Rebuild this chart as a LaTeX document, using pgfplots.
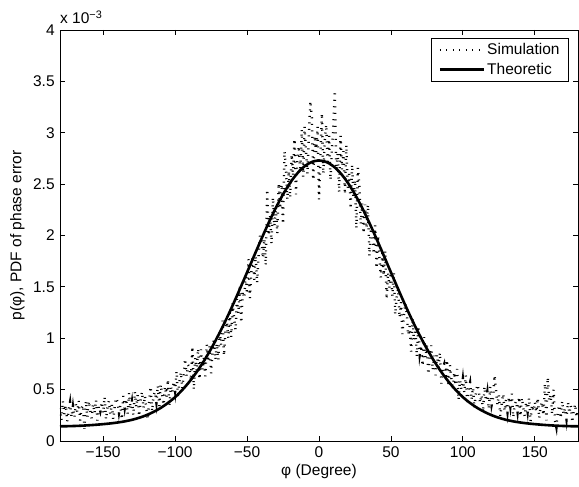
\documentclass[border=0pt]{standalone}
\usepackage{pgfplots}
\pgfplotsset{compat=1.18}
\pgfplotsset{legend image code/.code={\draw[#1] (0pt,0pt) -- (44pt,0pt);}}
\usepackage{fontspec}
\setmainfont{Liberation Sans}
\begin{document}
\fontsize{15.5}{18}\selectfont
\begin{tikzpicture}
\begin{axis}[
  name=a,
  scale only axis,
  width=518pt, height=411pt,
  xmin=-180, xmax=180, ymin=0, ymax=4,
  xtick={-150,-100,-50,0,50,100,150},
  xticklabels={−150,−100,−50,0,50,100,150},
  ytick={0,0.5,1,1.5,2,2.5,3,3.5,4},
  yticklabels={0,0.5,1,1.5,2,2.5,3,3.5,4},
  /pgf/number format/assume math mode=true,
  tick align=inside, tick pos=both,
  major tick length=5pt,
  axis line style={line width=0.8pt},
  every tick/.style={black, line width=0.8pt},
  xlabel={φ (Degree)},
  ylabel={p(φ), PDF of phase error},
  xlabel style={yshift=4pt},
  ylabel style={yshift=-2pt},
  legend cell align=left,
  legend style={at={(1,1)}, anchor=north east, xshift=-9pt, yshift=-8pt,
    draw=black, line width=0.8pt, inner xsep=7pt, inner ysep=3pt,
    row sep=2pt, font=\fontsize{15.5}{18}\selectfont},
]
\addplot[black, line width=2.4pt, dash pattern=on 1pt off 5.5pt] coordinates {
(-180,0.32) (-179,0.20) (-178,0.39) (-177,0.26) (-176,0.35) (-175,0.19) (-174,0.30) (-173,0.38) (-172,0.23) (-171,0.34)
(-170,0.23) (-169,0.36) (-168,0.28) (-167,0.39) (-166,0.20) (-165,0.32) (-164,0.35) (-163,0.12) (-162,0.39) (-161,0.23)
(-160,0.39) (-159,0.30) (-158,0.22) (-157,0.36) (-156,0.27) (-155,0.40) (-154,0.20) (-153,0.34) (-152,0.29) (-151,0.38)
(-150,0.27) (-149,0.43) (-148,0.21) (-147,0.33) (-146,0.39) (-145,0.26) (-144,0.36) (-143,0.21) (-142,0.33) (-141,0.42)
(-140,0.38) (-139,0.27) (-138,0.35) (-137,0.21) (-136,0.44) (-135,0.32) (-134,0.41) (-133,0.26) (-132,0.47) (-131,0.31)
(-130,0.39) (-129,0.25) (-128,0.48) (-127,0.33) (-126,0.45) (-125,0.24) (-124,0.39) (-123,0.48) (-122,0.32) (-121,0.44)
(-120,0.31) (-119,0.21) (-118,0.39) (-117,0.53) (-116,0.29) (-115,0.44) (-114,0.48) (-113,0.37) (-112,0.54) (-111,0.34)
(-110,0.55) (-109,0.45) (-108,0.35) (-107,0.53) (-106,0.43) (-105,0.60) (-104,0.34) (-103,0.53) (-102,0.47) (-101,0.58)
(-100,0.48) (-99,0.68) (-98,0.42) (-97,0.58) (-96,0.67) (-95,0.51) (-94,0.65) (-93,0.80) (-92,0.63) (-91,0.74)
(-90,0.72) (-89,0.59) (-88,0.92) (-87,0.50) (-86,0.81) (-85,0.68) (-84,0.90) (-83,0.60) (-82,0.89) (-81,0.69)
(-80,0.81) (-79,0.63) (-78,0.94) (-77,0.77) (-76,0.92) (-75,0.66) (-74,0.86) (-73,1.00) (-72,0.79) (-71,0.95)
(-70,0.79) (-69,1.06) (-68,0.93) (-67,1.17) (-66,0.83) (-65,1.07) (-64,1.16) (-63,1.00) (-62,1.28) (-61,1.01)
(-60,1.34) (-59,1.20) (-58,1.08) (-57,1.38) (-56,1.24) (-55,1.52) (-54,1.15) (-53,1.46) (-52,1.39) (-51,1.60)
(-50,1.43) (-49,1.77) (-48,1.39) (-47,1.66) (-46,1.80) (-45,1.57) (-44,1.80) (-43,1.54) (-42,1.80) (-41,2.00)
(-40,1.97) (-39,1.78) (-38,1.97) (-37,1.71) (-36,2.45) (-35,2.00) (-34,2.20) (-33,1.92) (-32,2.37) (-31,2.09)
(-30,2.28) (-29,2.02) (-28,2.51) (-27,2.26) (-26,2.50) (-25,2.11) (-24,2.82) (-23,2.67) (-22,2.35) (-21,2.63)
(-20,2.37) (-19,2.79) (-18,2.58) (-17,2.94) (-16,2.40) (-15,2.76) (-14,2.87) (-13,2.62) (-12,3.03) (-11,2.57)
(-10,3.06) (-9,2.81) (-8,2.60) (-7,2.99) (-6,3.31) (-5,3.15) (-4,2.54) (-3,2.97) (-2,2.81) (-1,3.06)
(0,2.35) (1,2.77) (2,3.19) (3,2.60) (4,2.92) (5,3.08) (6,2.69) (7,2.97) (8,2.54) (9,2.85)
(10,3.06) (11,3.41) (12,2.64) (13,2.80) (14,2.42) (15,2.97) (16,2.64) (17,2.82) (18,2.40) (19,2.88)
(20,2.46) (21,2.60) (22,2.26) (23,2.69) (24,2.36) (25,2.54) (26,2.07) (27,2.66) (28,2.49) (29,2.11)
(30,2.31) (31,2.02) (32,2.30) (33,2.07) (34,2.30) (35,1.80) (36,2.04) (37,2.07) (38,1.82) (39,2.10)
(40,1.68) (41,2.00) (42,1.78) (43,1.59) (44,1.83) (45,1.61) (46,1.85) (47,1.38) (48,1.64) (49,1.49)
(50,1.64) (51,1.41) (52,1.64) (53,1.23) (54,1.40) (55,1.48) (56,1.20) (57,1.35) (58,1.04) (59,1.22)
(60,1.34) (61,1.24) (62,1.03) (63,1.12) (64,0.87) (65,1.20) (66,0.98) (67,1.09) (68,0.82) (69,1.12)
(70,0.84) (71,0.93) (72,0.73) (73,1.01) (74,0.81) (75,0.93) (76,0.65) (77,0.82) (78,0.93) (79,0.69)
(80,0.83) (81,0.64) (82,0.84) (83,0.69) (84,0.86) (85,0.56) (86,0.71) (87,0.75) (88,0.60) (89,0.79)
(90,0.53) (91,0.74) (92,0.61) (93,0.50) (94,0.67) (95,0.54) (96,0.70) (97,0.40) (98,0.59) (99,0.50)
(100,0.61) (101,0.47) (102,0.64) (103,0.38) (104,0.51) (105,0.57) (106,0.40) (107,0.52) (108,0.32) (109,0.46)
(110,0.55) (111,0.50) (112,0.37) (113,0.45) (114,0.28) (115,0.53) (116,0.39) (117,0.48) (118,0.31) (119,0.53)
(120,0.35) (121,0.42) (122,0.64) (123,0.50) (124,0.35) (125,0.45) (126,0.24) (127,0.37) (128,0.46) (129,0.29)
(130,0.40) (131,0.28) (132,0.43) (133,0.33) (134,0.46) (135,0.23) (136,0.35) (137,0.39) (138,0.28) (139,0.43)
(140,0.24) (141,0.42) (142,0.32) (143,0.24) (144,0.38) (145,0.28) (146,0.42) (147,0.19) (148,0.35) (149,0.29)
(150,0.38) (151,0.28) (152,0.42) (153,0.22) (154,0.33) (155,0.38) (156,0.25) (157,0.56) (158,0.20) (159,0.62)
(160,0.39) (161,0.45) (162,0.26) (163,0.50) (164,0.20) (165,0.13) (166,0.29) (167,0.35) (168,0.22) (169,0.39)
(170,0.26) (171,0.32) (172,0.21) (173,0.38) (174,0.27) (175,0.35) (176,0.18) (177,0.29) (178,0.36) (179,0.23)
(180,0.32)
};
\addlegendentry{Simulation}
\addplot[black, line width=2.6pt, smooth] coordinates {
(-180,0.143) (-175,0.144) (-170,0.146) (-165,0.149) (-160,0.153) (-155,0.158) (-150,0.164) (-145,0.171) (-140,0.180)
(-135,0.191) (-130,0.206) (-125,0.226) (-120,0.251) (-115,0.283) (-110,0.322) (-105,0.370) (-100,0.427) (-95,0.497)
(-90,0.578) (-85,0.672) (-80,0.778) (-75,0.897) (-70,1.028) (-65,1.169) (-60,1.320) (-55,1.479) (-50,1.641)
(-45,1.805) (-40,1.967) (-35,2.123) (-30,2.269) (-25,2.400) (-20,2.514) (-15,2.606) (-10,2.674) (-5,2.716)
(0,2.730)
(5,2.716) (10,2.674) (15,2.606) (20,2.514) (25,2.400) (30,2.269) (35,2.123) (40,1.967) (45,1.805)
(50,1.641) (55,1.479) (60,1.320) (65,1.169) (70,1.028) (75,0.897) (80,0.778) (85,0.672) (90,0.578)
(95,0.497) (100,0.427) (105,0.370) (110,0.322) (115,0.283) (120,0.251) (125,0.226) (130,0.206) (135,0.191)
(140,0.180) (145,0.171) (150,0.164) (155,0.158) (160,0.153) (165,0.149) (170,0.146) (175,0.144) (180,0.143)
};
\addlegendentry{Theoretic}
\coordinate (bl) at (rel axis cs:0,0);
\coordinate (tr) at (rel axis cs:1,1);
\coordinate (tl) at (rel axis cs:0,1);
\end{axis}
\node[anchor=south west, inner sep=0pt, yshift=6pt] at (tl) {x 10\textsuperscript{−3}};
\pgfresetboundingbox
\path ([xshift=-60pt,yshift=-46pt]bl) rectangle ([xshift=1pt,yshift=30pt]tr);
\end{tikzpicture}
\end{document}
